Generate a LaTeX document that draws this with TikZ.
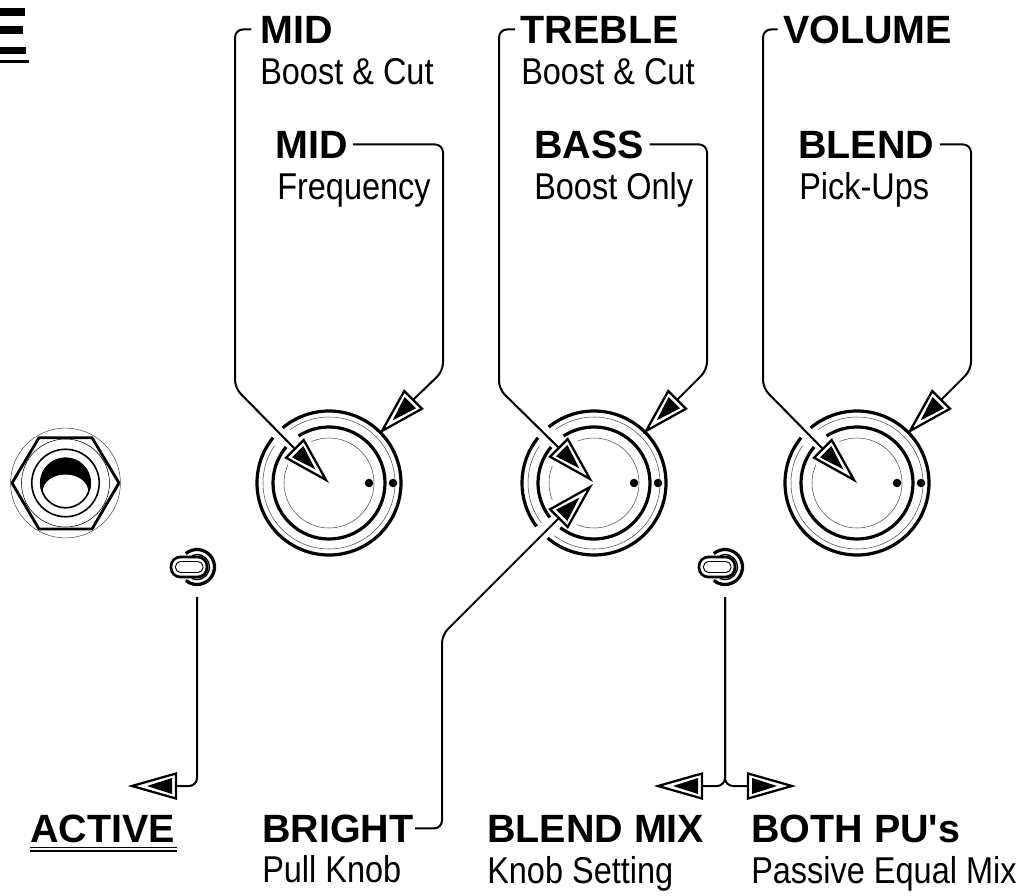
\documentclass[tikz,border=0pt]{standalone}
\usepackage{fontspec}
\setmainfont{Liberation Sans}
\newfontfamily\narrowfont[FakeStretch=0.87]{Liberation Sans}
\usepackage{tikz}
\tikzset{
  title/.style={anchor=base west,inner sep=0pt,font=\bfseries\fontsize{29.6}{32}\selectfont},
  sub/.style={anchor=base west,inner sep=0pt,font=\narrowfont\fontsize{28}{30}\selectfont},
  wire/.style={line width=1.5pt,rounded corners=6pt},
  thickring/.style={line width=2.4pt},
  thinring/.style={line width=0.4pt,black!70},
}
% pointer : name, tip, angle
\newcommand{\pointer}[3]{
\begin{scope}[shift={(#2)},rotate=#3]
\draw [line width=1.7pt,fill=white,line join=miter] (0,0)--(44,12.5)--(44,-12.5)--cycle;
\fill (15,0)--(40,8)--(40,-8)--cycle;
\coordinate (#1) at (44,0);
\end{scope}
}
% ring arc : centre, radius, from, to
\newcommand{\ringarc}[5]{
\draw [#1] (#2) ++(#4:{#3*0.75pt}) arc [start angle=#4,end angle=#5,radius={#3*0.75pt}];
}
\begin{document}
\begin{tikzpicture}[x=0.75pt,y=-0.75pt]
\useasboundingbox (0,0) rectangle (1026,896);

% cut off letter at the corner
\fill (0,8) rectangle (24.5,16);
\fill (0,26) rectangle (23,34);
\fill (0,47) rectangle (25.5,54);
\fill (0,60) rectangle (29,63);

% jack
\coordinate (jack) at (65.5,483);
\draw [thinring] (jack) circle [radius=41.2pt];
\draw [line width=2.1pt,line join=round] (12,483)--(39,437.7)--(92,437.7)--(119,483)--(92,529)--(39,529)--cycle;
\draw [thinring,black] (jack) circle [radius=33pt];
\draw [line width=1.2pt] (jack) circle [radius=25.3pt];
\fill (jack) circle [radius=19pt];
\fill [white] (65.5,491.5) ellipse [x radius=17pt,y radius=12.7pt];
\draw [line width=1.2pt] (jack) circle [radius=18.6pt];

% toggles
\foreach \tx/\tname in {0/toggleA,528/toggleB} {
\begin{scope}[xshift=\tx*0.75pt]
\coordinate (\tname) at (197,597);
\ringarc{line width=2.4pt}{197,567}{17.5}{130}{-130}
\ringarc{line width=1pt}{197,567}{12.5}{115}{-115}
\draw [line width=2pt,fill=white,rounded corners=7pt] (171,557) rectangle (207,577);
\draw [line width=0.7pt,rounded corners=3.8pt] (175.5,561.5) rectangle (203,572.5);
\end{scope}
}

% knobs
\foreach \kx in {329,594,857} {
\fill (\kx+40,483) circle [radius=3.2pt];
\fill (\kx+64,483) circle [radius=3.2pt];
}
\foreach \kx in {329,857} {
\ringarc{thickring}{\kx,483}{72}{141}{490}
\ringarc{thinring}{\kx,483}{66}{146}{486}
\ringarc{thickring}{\kx,483}{56}{140}{483}
\ringarc{thinring}{\kx,483}{45}{156}{473}
}
\ringarc{thickring}{594,483}{72}{141}{217}
\ringarc{thickring}{594,483}{72}{230}{489}
\ringarc{thinring}{594,483}{66}{146}{217}
\ringarc{thinring}{594,483}{66}{233}{486}
\ringarc{thickring}{594,483}{56}{140}{218}
\ringarc{thickring}{594,483}{56}{233}{483}
\ringarc{thinring}{594,483}{45}{158}{202}
\ringarc{thinring}{594,483}{45}{248}{471}

% pointers
\pointer{ptrMidTop}{326,480}{135}
\pointer{ptrMidFreq}{382,431}{45}
\pointer{ptrTreble}{590,479}{135}
\pointer{ptrBass}{646,431}{45}
\pointer{ptrBright}{590,487}{225}
\pointer{ptrVolume}{854,480}{135}
\pointer{ptrBlend}{910,431}{45}
\pointer{ptrActive}{132,786}{0}
\pointer{ptrMix}{658,786}{0}
\pointer{ptrBoth}{792,786}{180}

% labels
\node [title] (midTop) at (260,43) {MID};
\node [sub] (midTopSub) at (260,84) {Boost \& Cut};
\node [title] (midFreq) at (275,158) {MID};
\node [sub] (midFreqSub) at (277,199) {Frequency};
\node [title] (treble) at (520.5,43) {TREBLE};
\node [sub] (trebleSub) at (521,84) {Boost \& Cut};
\node [title] (bass) at (534,158) {BASS};
\node [sub] (bassSub) at (534,199) {Boost Only};
\node [title] (volume) at (783,43) {VOLUME};
\node [title] (blend) at (798,158) {BLEND};
\node [sub] (blendSub) at (799,199) {Pick-Ups};
\node [title] (active) at (30,842) {ACTIVE};
\node [title] (bright) at (262,842) {BRIGHT};
\node [sub] (brightSub) at (262,882) {Pull Knob};
\node [title] (mix) at (487,842) {BLEND MIX};
\node [sub] (mixSub) at (487,883) {Knob Setting};
\node [title] (both) at (751,842) {BOTH PU\textquotesingle s};
\node [sub] (bothSub) at (751,883) {Passive Equal Mix};

\draw [line width=0.9pt] (30,847.5)--(177,847.5);
\draw [line width=0.9pt] (30,851)--(177,851);

% connectors
\draw [wire] ([xshift=-6.5pt]midTop.west) -| (235,388) -- (ptrMidTop);
\draw [wire] ([xshift=4pt]midFreq.east) -| (443,371) -- (ptrMidFreq);
\draw [wire] ([xshift=-4pt]treble.west) -| (499,389) -- (ptrTreble);
\draw [wire] ([xshift=4pt]bass.east) -| (707,370) -- (ptrBass);
\draw [wire] ([xshift=-4pt]volume.west) -| (763,388) -- (ptrVolume);
\draw [wire] ([xshift=4pt]blend.east) -| (971,370) -- (ptrBlend);
\draw [wire] (ptrBright) -- (442,635) |- ([xshift=1pt]bright.east);
\draw [wire] (toggleA) |- (ptrActive);
\draw [wire] (toggleB) |- (ptrMix);
\draw [wire] (toggleB) |- (ptrBoth);
\end{tikzpicture}
\end{document}
